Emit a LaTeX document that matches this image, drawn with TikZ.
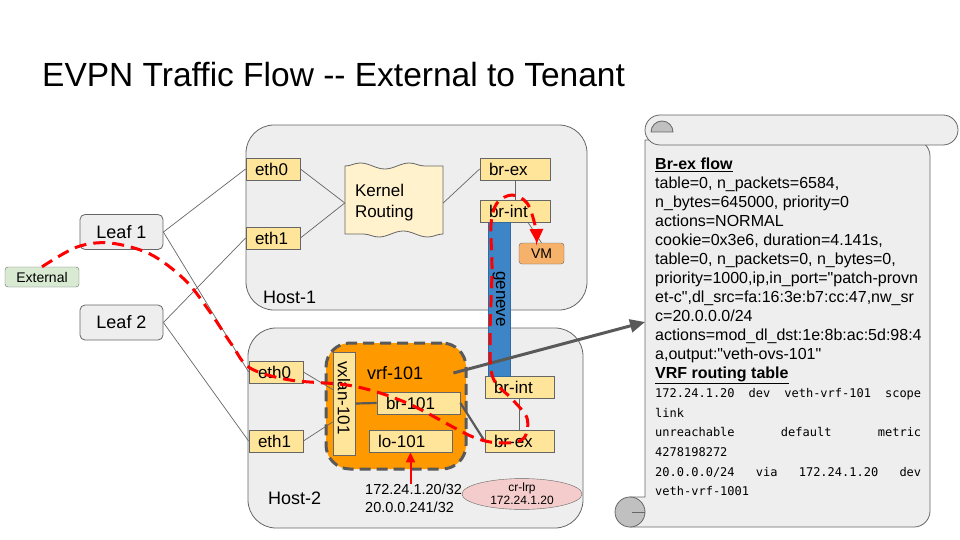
\documentclass[tikz,border=0pt]{standalone}
\usepackage{fontspec}
\setmainfont{Liberation Sans}
\newfontfamily\codefont{DejaVu Sans Mono}
\usepackage{tikz}
\usetikzlibrary{arrows.meta,calc,decorations.pathmorphing,positioning,shapes.geometric}

\definecolor{hostgrey}{HTML}{EEEEEE}
\definecolor{edgegrey}{HTML}{666666}
\definecolor{darkgrey}{HTML}{595959}
\definecolor{portyellow}{HTML}{FFE599}
\definecolor{kernelyellow}{HTML}{FFF2CC}
\definecolor{vmorange}{HTML}{F6B26B}
\definecolor{vrforange}{HTML}{FF9900}
\definecolor{extgreen}{HTML}{D9EAD3}
\definecolor{geneveblue}{HTML}{3D85C6}
\definecolor{lrppink}{HTML}{F4CCCC}
\definecolor{curlgrey}{HTML}{C0C0C0}

% straight double quote, kept out of the tex-text mapping
\newcommand\dq{\XeTeXglyph\XeTeXcharglyph"22\relax}

\begin{document}
\begin{tikzpicture}[x=1pt,y=-1pt,
  host/.style={draw=edgegrey, fill=hostgrey, rounded corners=28pt, line width=0.8pt},
  port/.style={draw=edgegrey, fill=portyellow, line width=0.8pt, minimum height=22pt,
    inner xsep=9pt, inner ysep=0pt, text width=#1, align=left, font=\fontsize{17}{20}\selectfont},
  leaf/.style={draw=edgegrey, fill=hostgrey, rounded corners=5pt, line width=0.8pt,
    minimum width=83pt, minimum height=35pt, font=\fontsize{18}{21}\selectfont},
  link/.style={draw=edgegrey, line width=0.7pt},
  thicklink/.style={draw=darkgrey, line width=2.2pt},
  flow/.style={draw=red, line width=3pt, dash pattern=on 12pt off 7pt},
  hostlabel/.style={font=\fontsize{18}{21}\selectfont, anchor=west, inner sep=0pt},
  scrollpart/.style={draw=edgegrey, fill=hostgrey, line width=0.8pt},
]
\useasboundingbox (0,0) rectangle (960,540);

% title
\node[anchor=west, inner sep=0pt, font=\fontsize{33.5}{40}\selectfont] (title) at (42,75)
  {EVPN Traffic Flow -{}- External to Tenant};

% hosts
\node[host, minimum width=341pt, minimum height=185pt] (hosta) at (416.5,217.5) {};
\node[host, minimum width=335pt, minimum height=200pt] (hostb) at (415.5,428) {};
\node[hostlabel] (hostalabel) at (263,297) {Host-1};
\node[hostlabel] (hostblabel) at (268,498) {Host-2};

% leaves and external
\node[leaf] (leafa) at (121.5,232) {Leaf 1};
\node[leaf] (leafb) at (121.5,322.5) {Leaf 2};
\node[draw=edgegrey, fill=extgreen, rounded corners=3pt, minimum width=74pt, minimum height=20pt,
  inner sep=0pt, font=\fontsize{14}{16}\selectfont] (ext) at (42,277) {External};

% host-1
\node[port=36pt] (etha0) at (273,169) {eth0};
\node[port=36pt] (etha1) at (273,238) {eth1};
\filldraw[draw=edgegrey, fill=kernelyellow, line width=0.8pt]
  (345,166) decorate[decoration={snake, amplitude=3pt, segment length=49pt}] {-- (443,166)}
  -- (443,234) decorate[decoration={snake, amplitude=3pt, segment length=49pt}] {-- (345,234)}
  -- cycle;
\node[minimum width=98pt, minimum height=68pt, inner xsep=10pt, text width=78pt, align=left,
  font=\fontsize{17}{21}\selectfont] (kernel) at (394,203) {Kernel\\Routing};
\node[port=52pt] (brexa) at (515,169) {br-ex};
\node[port=52pt] (brinta) at (515,211) {br-int};
\node[draw=edgegrey, fill=vmorange, rounded corners=3pt, minimum width=45pt, minimum height=21pt,
  inner sep=0pt, font=\fontsize{14}{16}\selectfont] (vm) at (541.5,253.5) {VM};

% host-2
\node[port=36pt] (ethb0) at (276,372) {eth0};
\node[port=36pt] (ethb1) at (276,441) {eth1};
\node[draw=darkgrey, fill=vrforange, line width=3pt, dash pattern=on 11pt off 6pt,
  rounded corners=24pt, minimum width=140pt, minimum height=126pt] (vrf) at (396,406) {};
\node[port=85pt, rotate=-90] (vxlan) at (344,403.5) {vxlan-101};
\node[hostlabel] (vrflabel) at (367,373) {vrf-101};
\node[port=65pt] (br101) at (418.5,403) {br-101};
\node[port=65pt] (lo101) at (410.5,441) {lo-101};
\node[port=51pt] (brintb) at (519.5,387.5) {br-int};
\node[port=51pt] (brexb) at (519.5,441) {br-ex};
\node[ellipse, draw=edgegrey, fill=lrppink, minimum width=120pt, minimum height=28pt, inner sep=0pt,
  align=center, font=\fontsize{12}{13}\selectfont] (crlrp) at (522,494) {cr-lrp\\172.24.1.20};
\node[anchor=north west, inner sep=0pt, align=left, font=\fontsize{14.5}{18}\selectfont] (addr)
  at (365,484) {172.24.1.20/32\\20.0.0.241/32};

% links
\draw[link] (leafa.east) -- (etha0.west);
\draw[link] (leafa.east) -- (ethb0.west);
\draw[link] (leafb.east) -- (etha1.west);
\draw[link] (leafb.east) -- (ethb1.west);
\draw[link] (etha0.east) -- (kernel.west);
\draw[link] (etha1.east) -- (kernel.west);
\draw[link] (kernel.east) -- (brexa.west);
\draw[link] (brexa.south) -- (brinta.north);
\draw[link] ([xshift=13pt]brinta.south) -- (vm.north);
\draw[link] (ethb0.east) -- ([yshift=14pt]vxlan.south);
\draw[link] (ethb1.east) -- ([yshift=-18.5pt]vxlan.south);
\draw[thicklink] (vxlan.north) -- (br101.west);
\draw[thicklink] (br101.east) -- (brexb.west);
\draw[link] (brintb.south) -- (brexb.north);
\draw[red, line width=2pt, -{Triangle[length=10pt,width=9pt]}] (addr.north -| lo101.south) -- (lo101.south);

% geneve tunnel
\node[draw=geneveblue!80!black, fill=geneveblue, rotate=-90, minimum width=154pt, minimum height=22pt,
  inner sep=0pt, font=\fontsize{17}{20}\selectfont] (geneve) at (499,299) {geneve};

% scroll
\filldraw[scrollpart] (645,140) -- (645,497) -- (630,497) -- (630,527)
  [rounded corners=16pt] -- (930,527) -- (930,140) [sharp corners] -- cycle;
\filldraw[scrollpart, rounded corners=15pt] (645,115) rectangle (958,145);
\filldraw[draw=edgegrey, fill=curlgrey, line width=0.8pt] (651,132) arc[start angle=180, end angle=0, radius=11pt] -- cycle;
\filldraw[draw=edgegrey, fill=curlgrey, line width=0.8pt] (630,512) circle[radius=15pt];
\draw[edgegrey, line width=0.8pt] (632,512) -- (645,512);
\node[anchor=north west, inner sep=0pt, align=left, font=\fontsize{16}{19}\selectfont] (flowtext)
  at (655,158) {\underline{\textbf{Br-ex flow}}\\
  table=0, n\_packets=6584,\\
  n\_bytes=645000, priority=0\\
  actions=NORMAL\\
  cookie=0x3e6, duration=4.141s,\\
  table=0, n\_packets=0, n\_bytes=0,\\
  priority=1000,ip,in\_port=\dq patch-provn\\
  et-c\dq,dl\_src=fa:16:3e:b7:cc:47,nw\_sr\\
  c=20.0.0.0/24\\
  actions=mod\_dl\_dst:1e:8b:ac:5d:98:4\\
  a,output:\dq veth-ovs-101\dq\\
  \underline{\textbf{VRF routing table}}};
\node[anchor=north west, inner sep=0pt, align=left, font=\codefont\fontsize{12}{19.7}\selectfont] (vrftext)
  at (655,388) {\makebox[266pt][l]{172.24.1.20\hfill dev\hfill veth-vrf-101\hfill scope}\\
  link\\
  \makebox[266pt][l]{unreachable\hfill default\hfill metric}\\
  4278198272\\
  \makebox[266pt][l]{20.0.0.0/24\hfill via\hfill 172.24.1.20\hfill dev}\\
  veth-vrf-1001};
\coordinate (scrollin) at (645,322);
\draw[darkgrey, line width=3pt, -{Triangle[length=15pt,width=13pt]}] ([xshift=30pt]vrflabel.east) -- (scrollin);

% traffic path
\draw[flow, -{Triangle[length=14pt,width=13pt]}] plot[smooth, tension=0.55] coordinates {
  (ext.north) (77,247) (110,243) (150,254) (185,280) (210,312) (232,345) (250,368) (290,380)
  (353,386) (407,403) (473,437) (505,443) (524,438) (527,418) (512,399) (493,378) (490,340)
  (492,270) (491,225) (497,203) (512,195) (527,203) (535,225) (537,243)};
\end{tikzpicture}
\end{document}
